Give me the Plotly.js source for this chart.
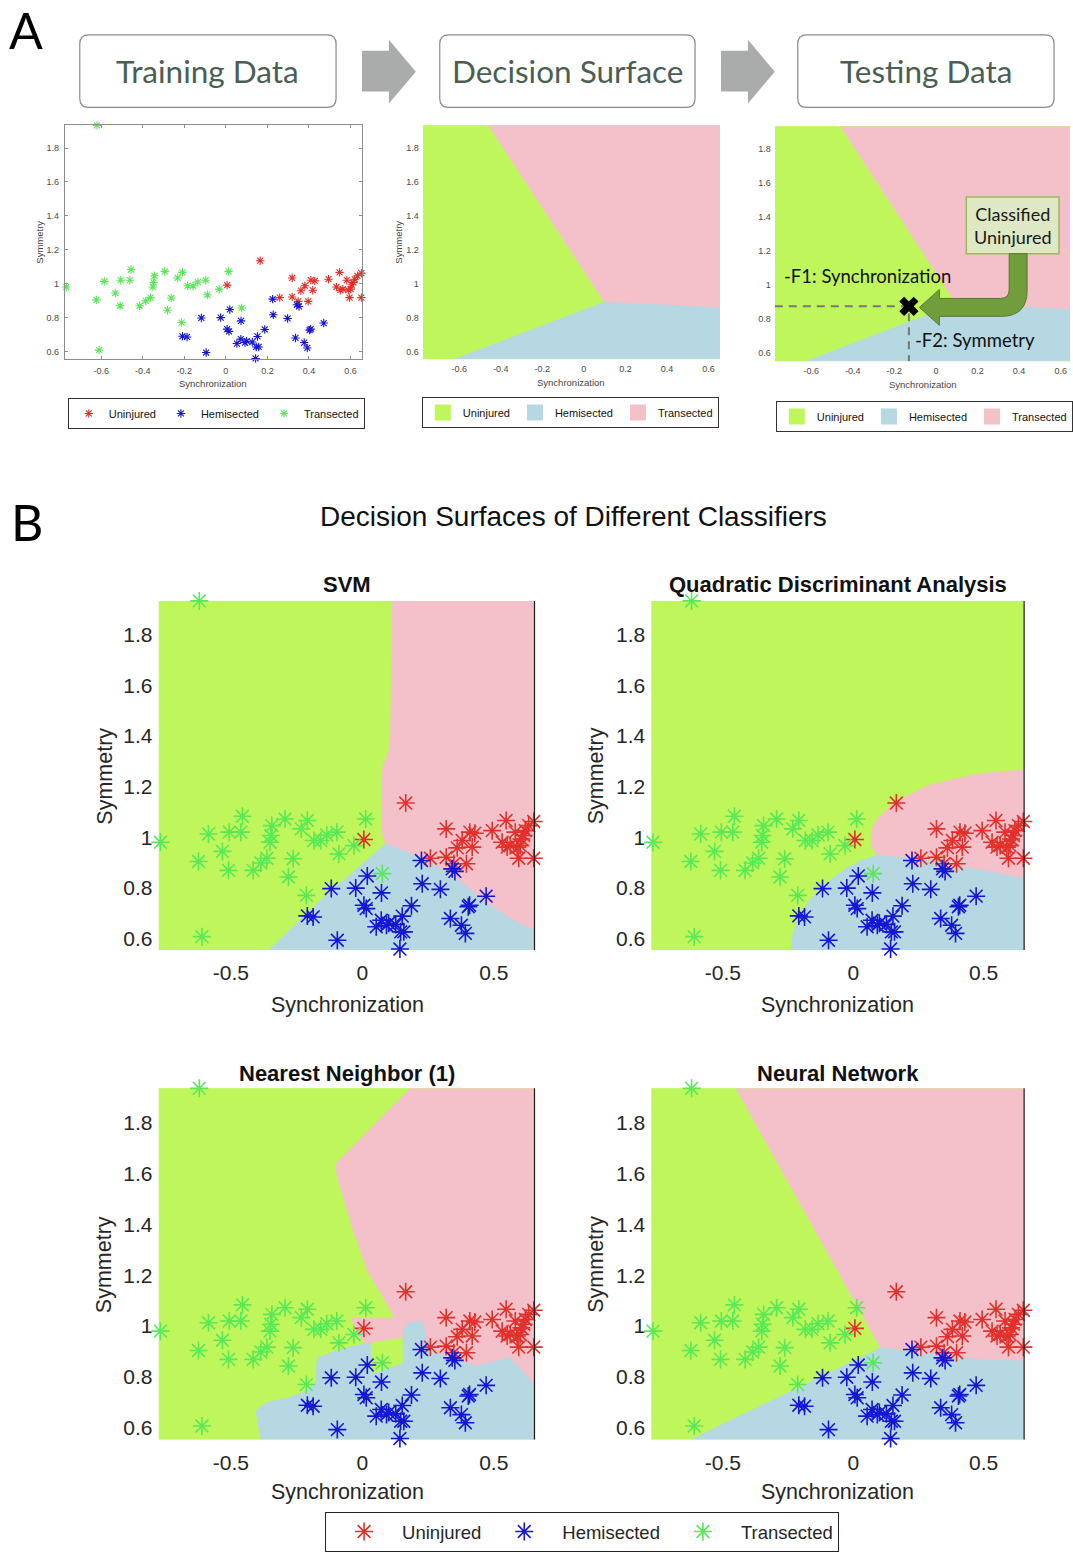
<!DOCTYPE html>
<html><head><meta charset="utf-8">
<script src="https://cdn.plot.ly/plotly-3.0.1.min.js"></script>
<style>html,body{margin:0;padding:0;background:#fff}#chart{width:1073px;height:1552px}</style>
</head><body><div id="chart"></div>
<script>
// ---------------- DATA ----------------
const categories = ['Uninjured', 'Hemisected', 'Transected'];

// Uninjured (red stars)
const uninjuredSync = [0.006, 0.165, 0.259, 0.319, 0.319, 0.348, 0.361, 0.380, 0.396, 0.409, 0.418, 0.428, 0.494, 0.532, 0.547, 0.551, 0.563, 0.582, 0.589, 0.595, 0.601, 0.605, 0.614, 0.620, 0.633, 0.652, 0.652];
const uninjuredSym  = [0.991, 1.135, 0.917, 1.033, 0.921, 0.895, 0.958, 0.987, 0.895, 1.020, 0.961, 1.016, 1.026, 0.980, 1.066, 0.961, 0.967, 1.020, 0.961, 0.917, 0.967, 0.993, 1.007, 1.026, 1.046, 1.062, 0.917];

// Hemisected (blue stars)
const hemisectedSync = [-0.209, -0.187, -0.118, -0.095, -0.025, 0.006, 0.015, 0.019, 0.073, 0.053, 0.072, 0.092, 0.100, 0.127, 0.146, 0.158, 0.152, 0.143, 0.187, 0.225, 0.228, 0.297, 0.335, 0.342, 0.352, 0.377, 0.392, 0.403, 0.408, 0.471];
const hemisectedSym  = [0.689, 0.685, 0.797, 0.593, 0.799, 0.731, 0.718, 0.847, 0.780, 0.646, 0.672, 0.652, 0.660, 0.655, 0.626, 0.626, 0.688, 0.558, 0.729, 0.908, 0.816, 0.794, 0.679, 0.875, 0.865, 0.652, 0.620, 0.725, 0.731, 0.767];

// Transected (green stars)
const transectedSync = [-0.620, -0.768, -0.585, -0.623, -0.610, -0.532, -0.509, -0.506, -0.462, -0.456, -0.415, -0.386, -0.363, -0.351, -0.348, -0.344, -0.294, -0.281, -0.263, -0.232, -0.209, -0.213, -0.184, -0.158, -0.135, -0.097, -0.089, -0.032, 0.013, 0.076];
const transectedSym  = [1.934, 0.980, 1.013, 0.904, 0.607, 0.944, 0.869, 1.020, 1.020, 1.083, 0.869, 0.898, 0.917, 0.980, 1.007, 1.046, 1.072, 0.843, 0.915, 1.033, 1.066, 0.770, 0.987, 0.987, 1.009, 1.020, 0.934, 0.967, 1.072, 0.856];

// Test sample (panel A, testing data)
const testSync = [-0.13];
const testSym  = [0.876];

// Axis ranges and ticks
const syncRange = [-0.775, 0.655];
const syncRangeTest = [-0.775, 0.645];
const symRange = [0.554, 1.934];
const syncTicksA = [-0.6, -0.4, -0.2, 0, 0.2, 0.4, 0.6];
const syncLabelsA = ['-0.6', '-0.4', '-0.2', '0', '0.2', '0.4', '0.6'];
const syncTicksB = [-0.5, 0, 0.5];
const syncLabelsB = ['-0.5', '0', '0.5'];
const symTicks = [0.6, 0.8, 1, 1.2, 1.4, 1.6, 1.8];
const symLabels = ['0.6', '0.8', '1', '1.2', '1.4', '1.6', '1.8'];

// Decision-region boundaries (vertices in Synchronization / Symmetry units)
// Panel A surface
const surfATransSync = [-0.458, 0.100, 0.655, 0.655];
const surfATransSym  = [1.934, 0.890, 0.856, 1.934];
const surfAHemiSync  = [-0.620, 0.100, 0.655, 0.655];
const surfAHemiSym   = [0.554, 0.890, 0.856, 0.554];
// SVM
const svmTransSync = [0.116, 0.108, 0.101, 0.079, 0.074, 0.076, 0.089, 0.228, 0.354, 0.481, 0.594, 0.655, 0.655];
const svmTransSym  = [1.934, 1.412, 1.334, 1.281, 1.150, 1.019, 0.973, 0.915, 0.842, 0.731, 0.659, 0.633, 1.934];
const svmHemiSync  = [-0.354, -0.152, 0.089, 0.228, 0.354, 0.481, 0.594, 0.655, 0.655];
const svmHemiSym   = [0.554, 0.757, 0.973, 0.915, 0.842, 0.731, 0.659, 0.633, 0.554];
// QDA
const qdaTransSync = [0.655, 0.475, 0.284, 0.157, 0.093, 0.074, 0.068, 0.075, 0.093, 0.220, 0.348, 0.475, 0.603, 0.655];
const qdaTransSym  = [1.266, 1.249, 1.203, 1.135, 1.072, 1.035, 0.993, 0.955, 0.928, 0.915, 0.898, 0.872, 0.846, 0.836];
const qdaHemiSync  = [-0.238, -0.232, -0.207, -0.162, -0.098, -0.034, 0.029, 0.093, 0.220, 0.348, 0.475, 0.603, 0.655, 0.655];
const qdaHemiSym   = [0.554, 0.613, 0.692, 0.757, 0.822, 0.872, 0.907, 0.928, 0.915, 0.898, 0.872, 0.846, 0.836, 0.554];
// Nearest neighbour
const nnTransSync = [0.184, -0.101, -0.095, -0.038, 0.025, 0.076, 0.114, 0.125, -0.038, -0.025, 0.013, 0.100, 0.300, 0.655, 0.655];
const nnTransSym  = [1.934, 1.637, 1.591, 1.389, 1.207, 1.122, 1.050, 1.031, 1.031, 0.972, 0.933, 0.900, 0.800, 0.700, 1.934];
const nnHemiSync  = [-0.385, -0.404, -0.366, -0.278, -0.228, -0.177, -0.171, -0.101, -0.038, 0.032, 0.038, 0.152, 0.158, 0.177, 0.228, 0.241, 0.278, 0.329, 0.379, 0.430, 0.506, 0.556, 0.594, 0.655, 0.655];
const nnHemiSym   = [0.554, 0.666, 0.699, 0.718, 0.738, 0.777, 0.875, 0.901, 0.920, 0.933, 0.816, 0.855, 0.985, 1.014, 1.018, 0.959, 0.894, 0.881, 0.861, 0.842, 0.861, 0.875, 0.842, 0.764, 0.554];
const nnUninjPocketSync = [0.032, 0.152, 0.152, 0.038];
const nnUninjPocketSym  = [0.933, 0.953, 0.855, 0.816];
// Neural network
const nnetTransSync = [-0.449, 0.106, 0.344, 0.471, 0.655, 0.655];
const nnetTransSym  = [1.934, 0.914, 0.882, 0.869, 0.862, 1.934];
const nnetHemiSync  = [-0.621, 0.106, 0.344, 0.471, 0.655, 0.655];
const nnetHemiSym   = [0.554, 0.914, 0.882, 0.869, 0.862, 0.554];

// ---------------- STYLE ----------------
const W = 1073, H = 1552;
const FONT = 'Liberation Sans, Arial, sans-serif';
const CAL = 'Lato, Open Sans, sans-serif';
const surfColor = {Uninjured: '#bff65b', Hemisected: '#b5d8e2', Transected: '#f4c1cb'};
const ptColor = {Uninjured: '#e2302a', Hemisected: '#1616d4', Transected: '#58e858'};
const X = p => p / W;
const Y = p => 1 - p / H;

const traces = [];

function poly(i, xs, ys, color) {
  traces.push({type: 'scatter', x: xs, y: ys, xaxis: 'x' + i, yaxis: 'y' + i, mode: 'lines', fill: 'toself',
    fillcolor: color, line: {width: 1, color: color}, hoverinfo: 'skip', showlegend: false});
}
function baseRect(i, xr) {
  poly(i, [xr[0], xr[1], xr[1], xr[0]], [symRange[0], symRange[0], symRange[1], symRange[1]], surfColor.Uninjured);
}
function stars(i, size, lw, legend) {
  const sets = [
    ['Uninjured', uninjuredSync, uninjuredSym],
    ['Hemisected', hemisectedSync, hemisectedSym],
    ['Transected', transectedSync, transectedSym]
  ];
  sets.forEach(([name, xs, ys]) => {
    traces.push({type: 'scatter', x: xs, y: ys, xaxis: 'x' + i, yaxis: 'y' + i, mode: 'markers', name: name,
      cliponaxis: false,
      marker: {symbol: 'asterisk-open', size: size, color: ptColor[name], line: {color: ptColor[name], width: lw}},
      showlegend: !!legend, legend: legend || 'legend', hoverinfo: 'skip'});
  });
}
function surfLegend(i, legend) {
  categories.forEach(name => {
    traces.push({type: 'scatter', x: [null], y: [null], xaxis: 'x' + i, yaxis: 'y' + i, mode: 'markers', name: name,
      marker: {symbol: 'square', size: 16, color: surfColor[name]}, showlegend: true, legend: legend});
  });
}

// A1: training data
stars(1, 7, 1.1, 'legend');
// A2: decision surface
baseRect(2, syncRange);
poly(2, surfATransSync, surfATransSym, surfColor.Transected);
poly(2, surfAHemiSync, surfAHemiSym, surfColor.Hemisected);
surfLegend(2, 'legend2');
// A3: testing data
baseRect(3, syncRange);
poly(3, surfATransSync, surfATransSym, surfColor.Transected);
poly(3, surfAHemiSync, surfAHemiSym, surfColor.Hemisected);
surfLegend(3, 'legend3');
traces.push({type: 'scatter', x: [syncRangeTest[0], testSync[0] - 0.02], y: [testSym[0], testSym[0]], xaxis: 'x3', yaxis: 'y3',
  mode: 'lines', line: {color: '#777', width: 2, dash: '8px,6px'}, showlegend: false, hoverinfo: 'skip'});
traces.push({type: 'scatter', x: [testSync[0], testSync[0]], y: [testSym[0] - 0.04, symRange[0]], xaxis: 'x3', yaxis: 'y3',
  mode: 'lines', line: {color: '#777', width: 2, dash: '8px,6px'}, showlegend: false, hoverinfo: 'skip'});
traces.push({type: 'scatter', x: testSync, y: testSym, xaxis: 'x3', yaxis: 'y3', mode: 'markers',
  marker: {symbol: 'x', size: 17, color: '#000'}, showlegend: false, hoverinfo: 'skip'});

// B: SVM
baseRect(4, syncRange);
poly(4, svmTransSync, svmTransSym, surfColor.Transected);
poly(4, svmHemiSync, svmHemiSym, surfColor.Hemisected);
stars(4, 15, 1.6, 'legend4');
// B: QDA
baseRect(5, syncRange);
poly(5, qdaTransSync, qdaTransSym, surfColor.Transected);
poly(5, qdaHemiSync, qdaHemiSym, surfColor.Hemisected);
stars(5, 15, 1.6, null);
// B: Nearest neighbour
baseRect(6, syncRange);
poly(6, nnTransSync, nnTransSym, surfColor.Transected);
poly(6, nnHemiSync, nnHemiSym, surfColor.Hemisected);
poly(6, nnUninjPocketSync, nnUninjPocketSym, surfColor.Uninjured);
stars(6, 15, 1.6, null);
// B: Neural network
baseRect(7, syncRange);
poly(7, nnetTransSync, nnetTransSym, surfColor.Transected);
poly(7, nnetHemiSync, nnetHemiSym, surfColor.Hemisected);
stars(7, 15, 1.6, null);

// ---------------- LAYOUT ----------------
const layout = {
  width: W, height: H, margin: {l: 0, r: 0, t: 0, b: 0},
  paper_bgcolor: '#fff', plot_bgcolor: 'rgba(0,0,0,0)',
  font: {family: FONT, color: '#262626'},
  showlegend: true, shapes: [], annotations: []
};

function axes(i, l, r, t, b, xr, small, opt) {
  const fs = small ? 9 : 21;
  const base = {showgrid: false, zeroline: false, fixedrange: true, tickfont: {family: FONT, size: fs, color: small ? '#4a4a4a' : '#262626'}};
  const xa = Object.assign({}, base, {domain: [X(l), X(r)], range: xr, anchor: 'y' + i,
    tickmode: 'array', tickvals: small ? syncTicksA : syncTicksB, ticktext: small ? syncLabelsA : syncLabelsB,
    ticks: '', showline: false, ticklabelstandoff: small ? 3 : 8});
  const ya = Object.assign({}, base, {domain: [Y(b), Y(t)], range: symRange, anchor: 'x' + i,
    tickmode: 'array', tickvals: symTicks, ticktext: symLabels,
    ticks: '', showline: false, ticklabelstandoff: small ? 3 : 5});
  if (opt === 'box') {
    [xa, ya].forEach(a => Object.assign(a, {showline: true, linecolor: '#8c8c8c', linewidth: 1, mirror: 'ticks',
      ticks: 'inside', ticklen: 3, tickcolor: '#8c8c8c'}));
  }
  layout['xaxis' + (i === 1 ? '' : i)] = xa;
  layout['yaxis' + (i === 1 ? '' : i)] = ya;
}
axes(1, 65, 363, 126, 361, syncRange, true, 'box');
axes(2, 424, 722, 126, 361, syncRange, true);
axes(3, 777, 1073, 127, 363, syncRangeTest, true);
axes(4, 159, 536, 604, 955, syncRange, false);
axes(5, 653, 1027, 604, 955, syncRange, false);
axes(6, 159, 536, 1094, 1447, syncRange, false);
axes(7, 653, 1027, 1094, 1447, syncRange, false);

// right-hand box edge of the panel B axes
[4, 5, 6, 7].forEach(i => layout.shapes.push({type: 'line', xref: 'x' + i + ' domain', yref: 'y' + i + ' domain',
  x0: 1, x1: 1, y0: 0, y1: 1, line: {color: '#1a1a1a', width: 1.2}}));

// legends
const legBase = {orientation: 'h', xanchor: 'left', yanchor: 'top', bgcolor: '#fff', bordercolor: '#333', borderwidth: 1,
  font: {family: FONT, size: 11, color: '#111'}, itemclick: false, itemdoubleclick: false, traceorder: 'normal'};
layout.legend = Object.assign({}, legBase, {x: X(68), y: Y(400)});
layout.legend2 = Object.assign({}, legBase, {x: X(423), y: Y(399)});
layout.legend3 = Object.assign({}, legBase, {x: X(778), y: Y(403)});
layout.legend4 = Object.assign({}, legBase, {x: X(326), y: Y(1520), bordercolor: '#222', itemwidth: 66,
  font: {family: FONT, size: 18.5, color: '#262626'}});

// header boxes and arrows (pixel geometry -> paper)
function rr(x0, y0, x1, y1, r) {
  return `M${X(x0 + r)},${Y(y0)} L${X(x1 - r)},${Y(y0)} Q${X(x1)},${Y(y0)} ${X(x1)},${Y(y0 + r)} ` +
    `L${X(x1)},${Y(y1 - r)} Q${X(x1)},${Y(y1)} ${X(x1 - r)},${Y(y1)} L${X(x0 + r)},${Y(y1)} ` +
    `Q${X(x0)},${Y(y1)} ${X(x0)},${Y(y1 - r)} L${X(x0)},${Y(y0 + r)} Q${X(x0)},${Y(y0)} ${X(x0 + r)},${Y(y0)} Z`;
}
function pth(pts) {
  return pts.map((p, k) => (k === 0 ? 'M' : 'L') + X(p[0]) + ',' + Y(p[1])).join(' ') + ' Z';
}
[[80, 35, 337, 108], [441, 35, 697, 108], [800, 35, 1057, 108]].forEach(b =>
  layout.shapes.push({type: 'path', xref: 'paper', yref: 'paper', path: rr(b[0], b[1], b[2], b[3], 9),
    fillcolor: '#fff', line: {color: '#8a8a8a', width: 1.2}}));
layout.shapes.push({type: 'path', xref: 'paper', yref: 'paper', fillcolor: '#a9acaa', line: {width: 0},
  path: pth([[363, 51], [390, 51], [390, 40], [417, 72], [390, 104], [390, 92], [363, 92]])});
layout.shapes.push({type: 'path', xref: 'paper', yref: 'paper', fillcolor: '#a9acaa', line: {width: 0},
  path: pth([[723, 51], [750, 51], [750, 40], [777, 72], [750, 104], [750, 92], [723, 92]])});

// "Classified Uninjured" box and curved green arrow
layout.shapes.push({type: 'rect', xref: 'paper', yref: 'paper', x0: X(969), x1: X(1062), y0: Y(255), y1: Y(198),
  fillcolor: '#dee8c5', line: {color: '#9aba5a', width: 1.5}});
layout.shapes.push({type: 'path', xref: 'paper', yref: 'paper', fillcolor: '#719d3d', line: {color: '#557a2c', width: 1},
  path: `M${X(1012)},${Y(255)} L${X(1012)},${Y(291)} Q${X(1012)},${Y(300)} ${X(1003)},${Y(300)} L${X(942)},${Y(300)} ` +
        `L${X(942)},${Y(291)} L${X(922)},${Y(309)} L${X(942)},${Y(327)} L${X(942)},${Y(318)} L${X(1004)},${Y(318)} ` +
        `Q${X(1030)},${Y(318)} ${X(1030)},${Y(292)} L${X(1030)},${Y(255)} Z`});

// annotations
function ann(text, px, py, size, family, opts) {
  layout.annotations.push(Object.assign({text: text, x: X(px), y: Y(py), xref: 'paper', yref: 'paper',
    xanchor: 'center', yanchor: 'middle', showarrow: false, font: {family: family, size: size, color: '#262626'}}, opts || {}));
}
ann('A', 26, 30, 50, CAL, {font: {family: CAL, size: 50, color: '#000'}});
ann('B', 27, 525, 50, CAL, {font: {family: CAL, size: 50, color: '#000'}});
ann('Training Data', 208.5, 71, 31.5, CAL, {font: {family: CAL, size: 31.5, color: '#4b5e53'}});
ann('Decision Surface', 569, 71, 31.5, CAL, {font: {family: CAL, size: 31.5, color: '#4b5e53'}});
ann('Testing Data', 928.5, 71, 31.5, CAL, {font: {family: CAL, size: 31.5, color: '#4b5e53'}});

// panel A axis titles
[[214, 385], [573, 384], [926, 386]].forEach(p => ann('Synchronization', p[0], p[1], 9.5, FONT, {font: {family: FONT, size: 9.5, color: '#444'}}));
[[40, 243], [400, 243]].forEach(p => ann('Symmetry', p[0], p[1], 9.5, FONT, {textangle: -90, font: {family: FONT, size: 9.5, color: '#444'}}));

// testing-data call-outs
ann('-F1: Synchronization', 870, 277, 18.5, CAL, {font: {family: CAL, size: 18.5, color: '#111'}});
ann('-F2: Symmetry', 978, 342, 18.5, CAL, {font: {family: CAL, size: 18.5, color: '#111'}});
ann('Classified<br>Uninjured', 1015.5, 227, 18, CAL, {font: {family: CAL, size: 18, color: '#1a1a1a'}});

// panel B
ann('Decision Surfaces of Different Classifiers', 575, 519, 28, FONT, {font: {family: FONT, size: 28, color: '#111'}});
const subTitles = [['SVM', 347.5, 588], ['Quadratic Discriminant Analysis', 840, 588], ['Nearest Neighbor (1)', 347.5, 1079], ['Neural Network', 840, 1079]];
subTitles.forEach(s => ann('<b>' + s[0] + '</b>', s[1], s[2], 22, FONT, {font: {family: FONT, size: 22, color: '#111'}}));
[[348, 1010], [840, 1010], [348, 1500], [840, 1500]].forEach(p => ann('Synchronization', p[0], p[1], 21.5, FONT));
[[105, 780], [598, 780], [105, 1271], [598, 1271]].forEach(p => ann('Symmetry', p[0], p[1], 21.5, FONT, {textangle: -90}));

Plotly.newPlot('chart', traces, layout, {displayModeBar: false, staticPlot: true});
</script></body></html>
